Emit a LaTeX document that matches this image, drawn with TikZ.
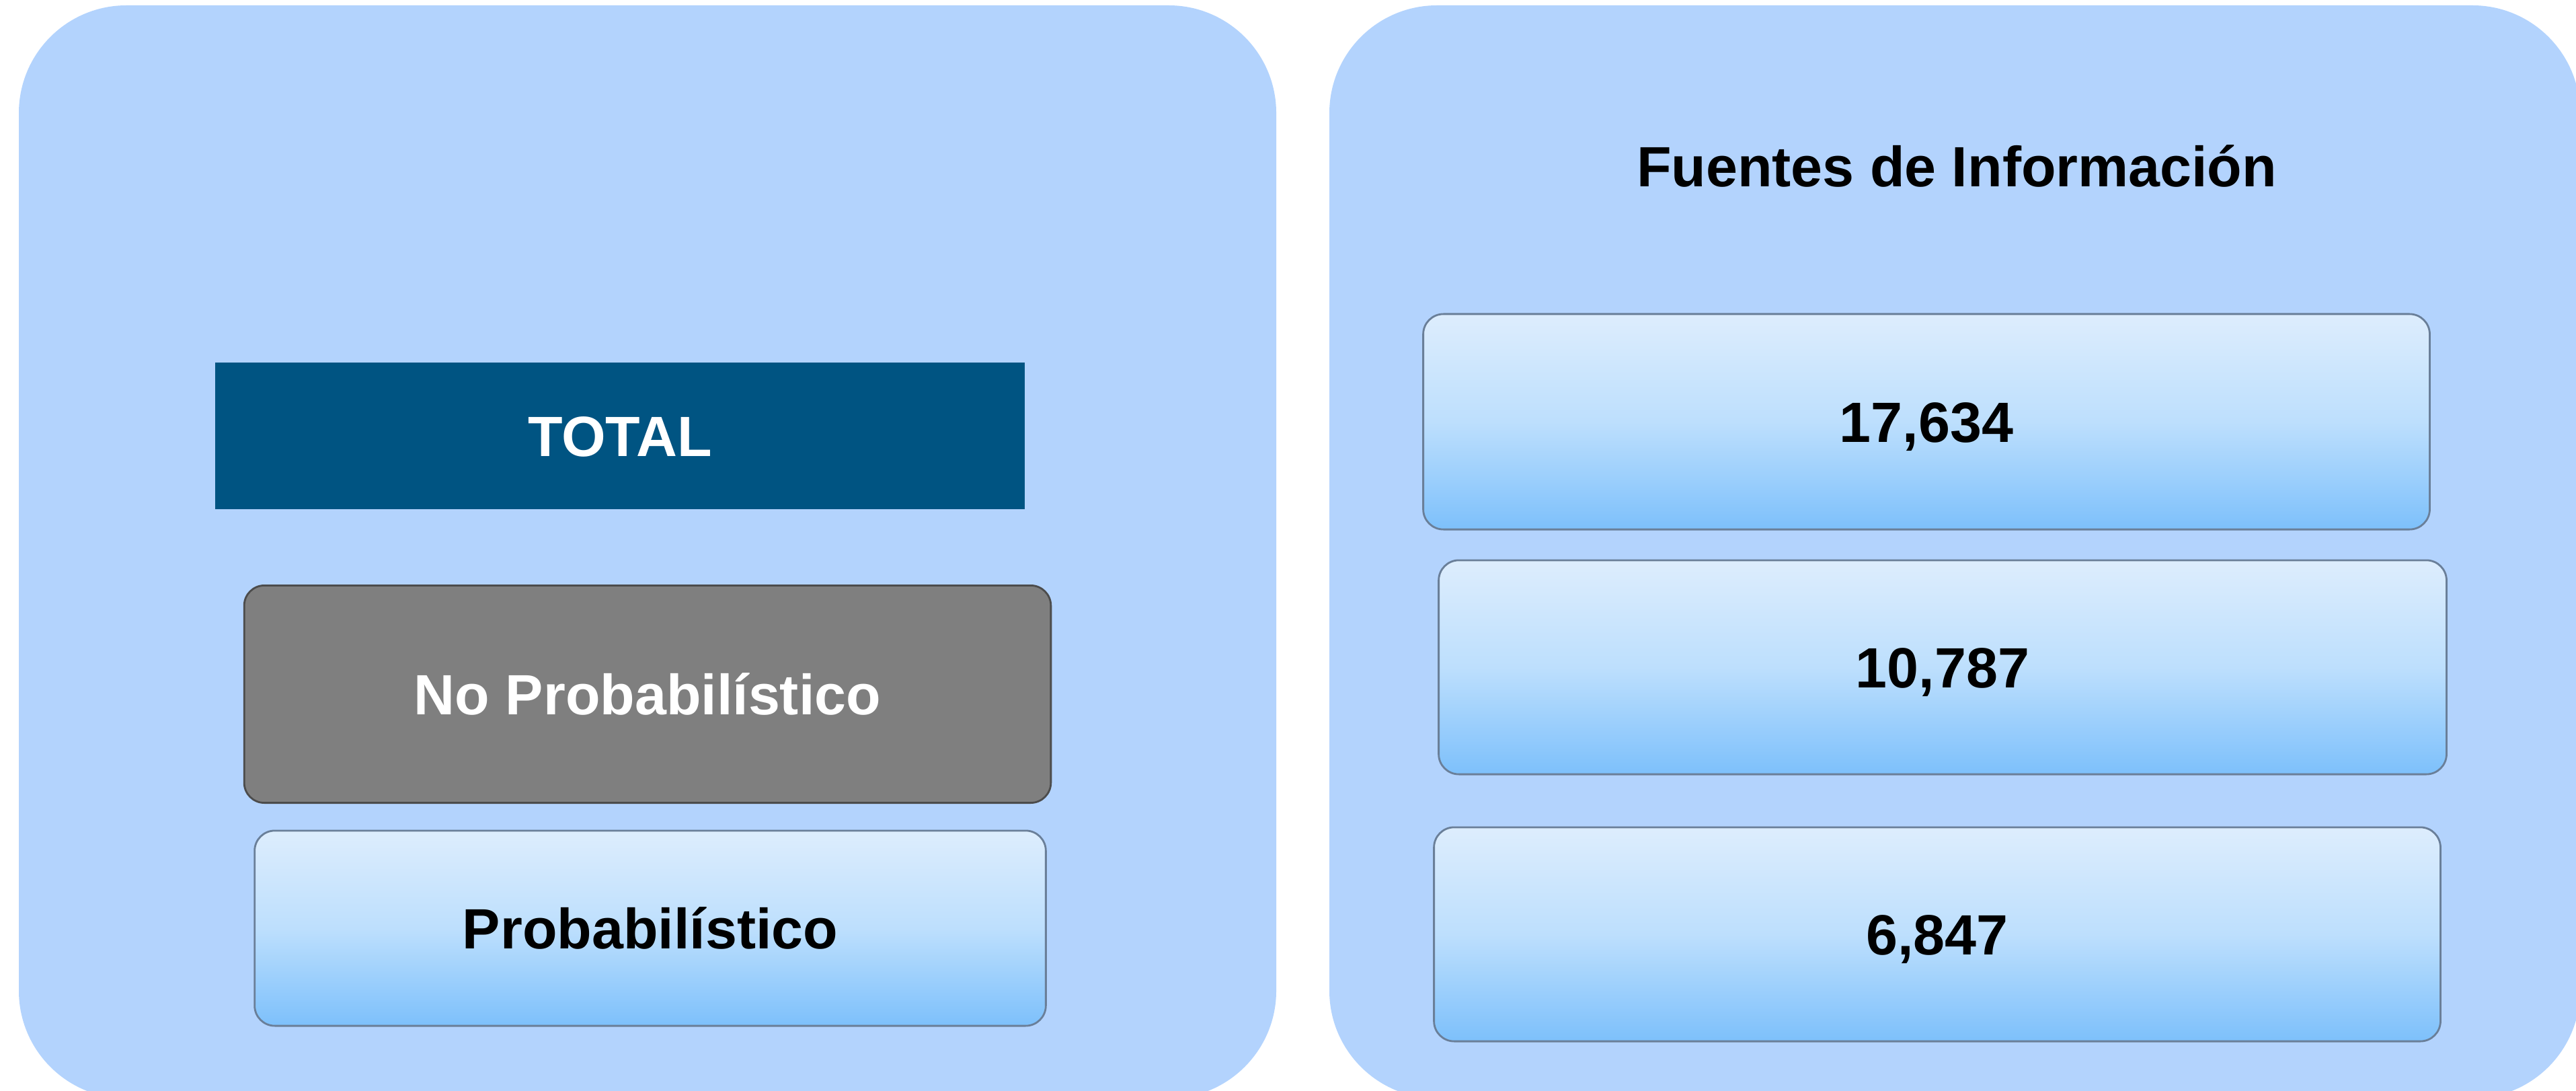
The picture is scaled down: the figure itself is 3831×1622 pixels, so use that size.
\documentclass[tikz,border=0pt]{standalone}
\usepackage{fontspec}
\setmainfont{Liberation Sans}
\usepackage{xcolor}
\usepackage{tikz}
\usetikzlibrary{positioning}

\definecolor{panelblue}{HTML}{B3D3FD}
\definecolor{totalblue}{HTML}{005482}
\definecolor{nogray}{HTML}{7F7F7F}
\definecolor{glasstop}{HTML}{DDEDFD}
\definecolor{glassmid}{HTML}{BDDFFD}
\definecolor{glassbot}{HTML}{7DC0FB}
\definecolor{glassedge}{HTML}{6A7F99}

\begin{document}
\begin{tikzpicture}[x=0.01cm,y=-0.01cm,
  panel/.style={fill=panelblue,rounded corners=1.6cm},
  txt/.style={font=\fontsize{24}{28}\selectfont\bfseries,inner sep=0pt,text height=17.2pt,text depth=0pt},
  glassbox/.style={txt,draw=glassedge,line width=0.8pt,rounded corners=0.3cm,
    top color=glasstop,bottom color=glassbot,middle color=glassmid,text=black}]
  \useasboundingbox (0,0) rectangle (3831,1622);
  \clip (0,0) rectangle (3831,1622);
  \fill[white] (0,0) rectangle (3831,1622);
  % panels
  \fill[panel] (28,8) rectangle (1898,1633);
  \fill[panel] (1977,8) rectangle (3837,1633);
  % left side
  \node[txt,fill=totalblue,text=white,minimum width=12.04cm,minimum height=2.18cm] (total) at (922,648) {TOTAL};
  \node[txt,fill=nogray,draw=black!70,line width=0.8pt,rounded corners=0.3cm,text=white,
    minimum width=11.99cm,minimum height=3.23cm] (noprob) at (963,1032) {No Probabilístico};
  \node[glassbox,minimum width=11.76cm,minimum height=2.90cm] (prob) at (967,1380) {Probabilístico};
  % right side
  \node[txt] (fuentes) at (2910,247) {Fuentes de Información};
  \node[glassbox,minimum width=14.96cm,minimum height=3.20cm] (n1) at (2865,627) {17,634};
  \node[glassbox,minimum width=14.98cm,minimum height=3.18cm] (n2) at (2889,992) {10,787};
  \node[glassbox,minimum width=14.96cm,minimum height=3.18cm] (n3) at (2881,1389) {6,847};
\end{tikzpicture}
\end{document}
